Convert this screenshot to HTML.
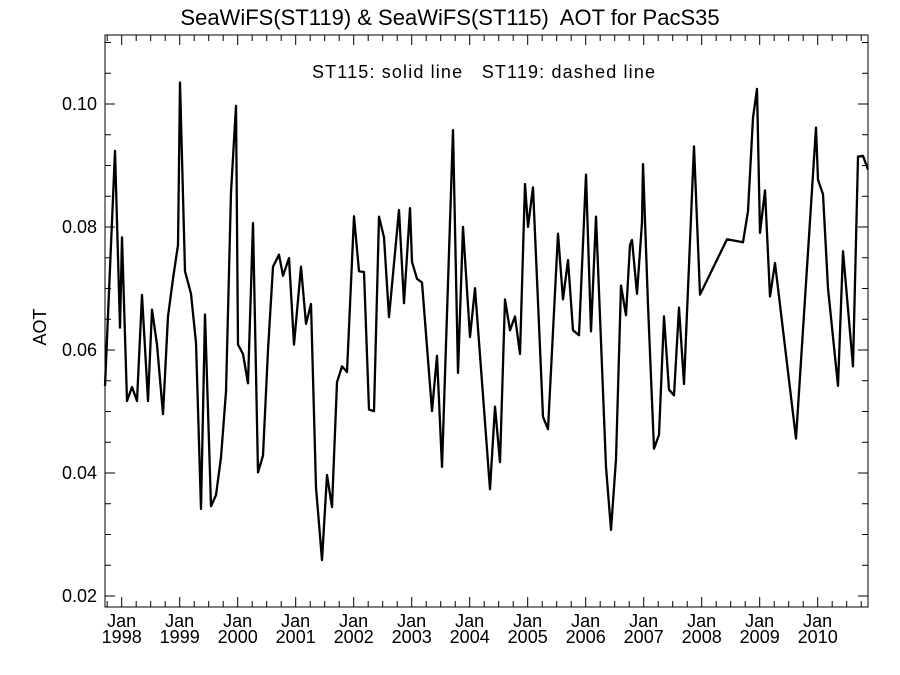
<!DOCTYPE html>
<html><head><meta charset="utf-8"><style>
html,body{margin:0;padding:0;background:#fff;}
svg{display:block;}
text{font-family:"Liberation Sans",sans-serif;fill:#000;white-space:pre;}
</style></head><body>
<svg id="s" width="900" height="675" xmlns="http://www.w3.org/2000/svg">
<text x="450" y="25" font-size="22" text-anchor="middle" xml:space="preserve">SeaWiFS(ST119) &amp; SeaWiFS(ST115)  AOT for PacS35</text>
<text x="312" y="78" font-size="18" textLength="343" lengthAdjust="spacing" xml:space="preserve">ST115: solid line   ST119: dashed line</text>
<text x="46" y="327" font-size="18" text-anchor="middle" transform="rotate(-90 46 327)">AOT</text>
<rect x="105" y="35" width="763" height="572" fill="none" stroke="#000" stroke-width="1"/>
<g id="ticks" stroke="#000" stroke-width="1"></g>
<g id="labels" font-size="18"></g>
<polyline id="line" fill="none" stroke="#000" stroke-width="2.3" stroke-linejoin="round"/>
</svg>
<script>
var ns="http://www.w3.org/2000/svg";
function el(t,a,p,txt){var e=document.createElementNS(ns,t);for(var k in a)e.setAttribute(k,a[k]);if(txt!=null)e.textContent=txt;p.appendChild(e);return e;}
var T=document.getElementById('ticks'),L=document.getElementById('labels');
function yv(v){return 104+(0.10-v)/0.02*123;}
for(var i=0;i<=18;i++){var v=0.02+i*0.005;var y=yv(v);if(y<35||y>607)continue;
 var maj=(i%4==0);var len=maj?10:6;
 el('line',{x1:105,y1:y,x2:105+len,y2:y},T);el('line',{x1:868,y1:y,x2:868-len,y2:y},T);
 if(maj)el('text',{x:97,y:y+6,'text-anchor':'end'},L,v.toFixed(2));}
for(var m=-3;m<=156;m+=3){var x=121.7+58.0*m/12;if(x<105||x>868)continue;
 var maj=(m%12==0);var len=maj?10:6;
 el('line',{x1:x,y1:607,x2:x,y2:607-len},T);el('line',{x1:x,y1:35,x2:x,y2:35+len},T);
 if(maj){el('text',{x:x,y:627,'text-anchor':'middle'},L,'Jan');el('text',{x:x,y:643,'text-anchor':'middle'},L,String(1998+m/12));}}
var P1=[[105,945],[115,320],[120,790],[122,550],[127,985],[132,948],[137,985],[142,703],[148,985],[152,742],[157,835],[163,1020],[168,760],[173,660],[178,570],[180,138],[185,640],[191,700],[196,830],[201,1272],[205,755],[211,1265],[216,1235],[221,1135],[226,960],[231,430],[236,200],[238,835],[243,860],[248,938],[253,512],[258,1175],[263,1130],[268,850],[273,628],[279,596],[283,652],[289,605],[294,835],[301,628],[306,780],[311,727],[316,1215],[322,1408],[327,1182],[332,1267],[337,935],[342,893],[347,908],[354,494],[359,640],[364,642],[369,1008],[374,1012],[379,495],[384,550],[389,762],[399,477],[404,725],[410,472],[412,615],[417,660],[422,670],[432,1012],[437,865],[442,1160],[453,265],[458,910],[463,522],[470,815],[475,685],[490,1220],[495,1000],[500,1148],[505,715],[510,797],[515,760],[520,860],[525,408],[528,522],[533,417],[543,1027],[548,1060],[558,540],[563,715],[568,610],[573,797],[579,810],[586,383],[591,800],[596,495],[606,1160],[611,1328],[616,1140],[621,678],[626,757],[630,570],[632,557],[637,700],[642,510],[643,355],[648,730],[654,1112],[659,1075],[664,760],[669,955],[674,970],[679,737],[684,940],[694,308],[700,702],[727,555],[743,563],[748,480],[753,232],[757,155],[760,538],[765,425],[770,707],[775,618],[796,1085],[816,258],[818,397],[823,435],[828,685],[838,945],[843,587],[853,893],[858,335],[863,333],[868,370]];
var pts=P1.map(function(p){return p[0]+','+(30.6+p[1]*0.376).toFixed(1);}).join(' ');
document.getElementById('line').setAttribute('points',pts);
</script>
</body></html>
